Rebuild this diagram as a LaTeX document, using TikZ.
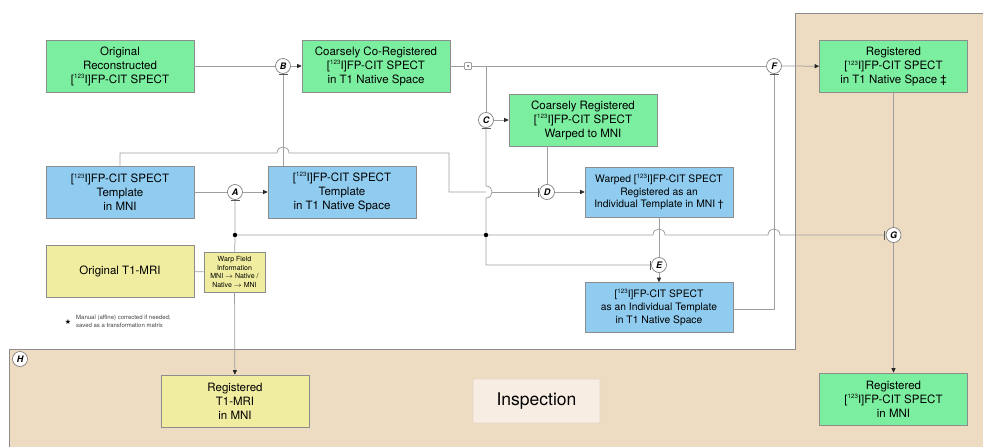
\documentclass[tikz,border=0pt]{standalone}
\usepackage{fontspec}
\setmainfont{TeX Gyre Heros}
\newfontfamily\dejavu{DejaVu Sans}
\usetikzlibrary{arrows.meta,calc}
\definecolor{gfill}{HTML}{7CEEA0}
\definecolor{bfill}{HTML}{90CCF0}
\definecolor{yfill}{HTML}{F0ECA0}
\definecolor{tan}{HTML}{EEDCC2}
\definecolor{ifill}{HTML}{F8EDE3}
\definecolor{idraw}{HTML}{E3D5C4}
\newcommand\iodine{[\raisebox{0.72ex}{\fontsize{6.2}{6.2}\selectfont 123}I]}
\newcommand\barbelow[1]{\draw[cbar] ($(#1.south)+(-4.5,1)$) -- ($(#1.south)+(4.5,1)$);}
\newcommand\barleft[1]{\draw[cbar] ($(#1.west)+(-1,-4.5)$) -- ($(#1.west)+(-1,4.5)$);}
\begin{document}
\begin{tikzpicture}[x=1pt,y=-1pt,
  box/.style={draw=black!45, line width=0.6pt, minimum width=148pt, minimum height=52pt,
    align=center, inner sep=0pt, font=\fontsize{11.5}{14}\selectfont},
  grn/.style={box, fill=gfill},
  blu/.style={box, fill=bfill},
  yel/.style={box, fill=yfill},
  smalltxt/.style={font=\fontsize{10.3}{12.7}\selectfont, minimum height=50pt},
  warpbox/.style={box, fill=yfill, minimum width=61pt, minimum height=40pt,
    font=\fontsize{7}{8.6}\selectfont},
  insp/.style={draw=idraw, fill=ifill, line width=0.6pt, minimum width=127pt, minimum height=44pt,
    rounded corners=1pt, font=\fontsize{17.5}{20}\selectfont},
  lbl/.style={circle, draw=black!55, fill=white, line width=0.6pt, minimum size=15pt, inner sep=0pt,
    font=\fontsize{9}{9}\selectfont\bfseries\itshape},
  ln/.style={draw=black!38, line width=0.75pt},
  arr/.style={ln, -{Triangle[length=4.5pt,width=4pt,color=black!85]}},
  cbar/.style={line width=1.3pt, draw=black!65},
  jdot/.style={fill=black, circle, inner sep=0pt, minimum size=4.5pt}
]
\useasboundingbox (0,0) rectangle (983,447);
% inspection region
\draw[fill=tan, draw=black!45, line width=0.8pt] (795,13) -- (990,13) -- (990,455) -- (9,455) -- (9,349) -- (795,349) -- cycle;

% boxes
\node[grn] (orig) at (120,66) {Original\\Reconstructed\\\iodine FP-CIT SPECT};
\node[grn] (coreg) at (376,66) {Coarsely Co-Registered\\\iodine FP-CIT SPECT\\in T1 Native Space};
\node[grn] (regt1) at (893.5,66.5) {Registered\\\iodine FP-CIT SPECT\\in T1 Native Space \ddag};
\node[grn] (cwarp) at (583,120) {Coarsely Registered\\\iodine FP-CIT SPECT\\Warped to MNI};
\node[blu] (tmni) at (120,192) {\iodine FP-CIT SPECT\\Template\\in MNI};
\node[blu] (tt1) at (342,192) {\iodine FP-CIT SPECT\\Template\\in T1 Native Space};
\node[blu,smalltxt] (warped) at (659,192) {Warped \iodine FP-CIT SPECT\\Registered as an\\Individual Template in MNI \dag};
\node[blu,smalltxt] (indiv) at (659,307.5) {\iodine FP-CIT SPECT\\as an Individual Template\\in T1 Native Space};
\node[yel] (t1) at (120,271.5) {Original T1-MRI};
\node[warpbox] (warp) at (234.5,272) {Warp Field\\Information\\MNI $\rightarrow$ Native /\\Native $\rightarrow$ MNI};
\node[yel] (regmri) at (235,401) {Registered\\T1-MRI\\in MNI};
\node[insp] (insp) at (536.5,401) {Inspection};
\node[grn] (regmni) at (893.5,399) {Registered\\\iodine FP-CIT SPECT\\in MNI};

% circles
\node[lbl] (B) at (283,66) {B};
\node[lbl] (A) at (235,192) {A};
\node[lbl] (C) at (486,120) {C};
\node[lbl] (D) at (547,192) {D};
\node[lbl] (E) at (659,265) {E};
\node[lbl] (F) at (774,66) {F};
\node[lbl] (G) at (893.5,235) {G};
\node[lbl] (H) at (20,359) {H};

% small marker square
\node[draw=black!55, fill=white, line width=0.5pt, minimum size=7pt, inner sep=0pt, rounded corners=0.8pt] (sq) at (468,66) {};
\fill[black!70] (sq.center) circle[radius=1pt];

% junction dots
\node[jdot] (j1) at (235,235) {};
\node[jdot] (j2) at (486,235) {};
\coordinate (cj) at (486,66);

% connectors
\draw[ln] (orig) -- (B);
\draw[arr] (B) -- (coreg);
\draw[ln] (tt1.north -| B) -- (B);
\draw[ln] (coreg) -- (sq);
\draw[ln] (sq) -- (F);
\draw[arr] (F) -- (regt1);
\draw[ln] (cj) -- (C);
\draw[arr] (C) -- (cwarp);

% template MNI to D (with jump over B vertical)
\draw[ln] (tmni.north) -- (120,153) -- (277,153) .. controls (277,145) and (289,145) .. (289,153) -- (449,153) -- (449,192) -- (486,192);
\draw[ln] (492,192) -- (D);
% C down through jump to dot and E
\draw[ln] (C) -- (486,186) .. controls (494,186) and (494,198) .. (486,198) -- (j2) -- (486,265) -- (E);

\draw[ln] (cwarp.south -| D) -- (D);
\draw[arr] (D) -- (warped);

\draw[ln] (tmni) -- (A);
\draw[arr] (A) -- (tt1);
\draw[ln] (t1) -- (warp);
\draw[ln] (warp) -- (j1) -- (A);
\draw[arr] (warp) -- (regmri);

% horizontal through to G with jumps
\draw[ln] (j1) -- (j2) -- (653,235) .. controls (653,227) and (665,227) .. (665,235) -- (768,235) .. controls (768,227) and (780,227) .. (780,235) -- (G);

\draw[ln] (warped) -- (E);
\draw[arr] (E) -- (indiv);
\draw[ln] (indiv.east |- 0,309) -- (774,309) -- (F);
\draw[ln] (regt1) -- (G);
\draw[arr] (G) -- (regmni);

% bars
\barbelow{B}
\barbelow{A}
\barbelow{C}
\barbelow{F}
\barleft{D}
\barleft{E}
\barleft{G}

% legend
\node[font=\dejavu\fontsize{7}{7}\selectfont, inner sep=0pt] (star) at (68,322) {★};
\node[anchor=west, align=left, inner sep=0pt, font=\fontsize{6}{8.2}\selectfont, text=black!75] (legend) at (76,321) {Manual (affine) corrected if needed;\\saved as a transformation matrix};
\end{tikzpicture}
\end{document}
